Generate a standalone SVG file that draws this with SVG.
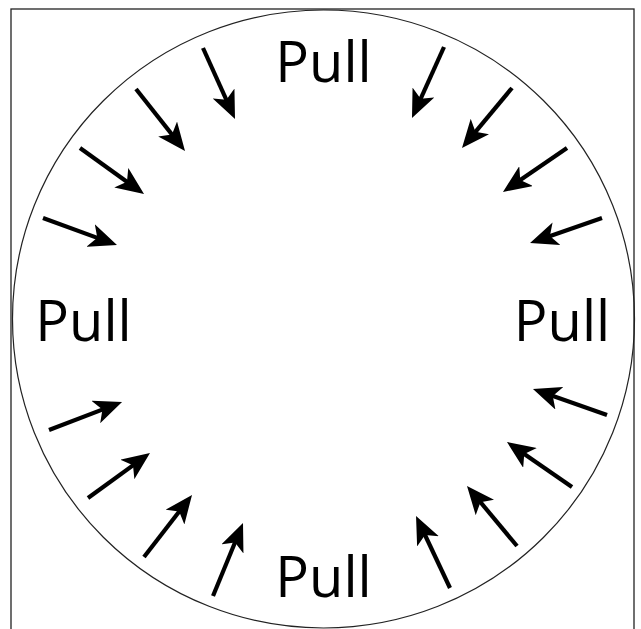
<svg xmlns="http://www.w3.org/2000/svg" width="641" height="629" viewBox="0 0 641 629">
<style>
.lbl{font-family:"Open Sans","Noto Sans",sans-serif;font-size:56px;fill:#000;text-anchor:middle}
.arr{stroke:#000;stroke-width:4.2;fill:none;marker-end:url(#ah)}
</style>
<defs>
<marker id="ah" viewBox="0 0 28 24" markerWidth="28" markerHeight="24" markerUnits="userSpaceOnUse" refX="18" refY="12" orient="auto">
<path d="M0,0 L28,12 L0,24 L7,12 Z" fill="#000"/>
</marker>
</defs>
<rect width="641" height="629" fill="#fff"/>
<rect x="11" y="9" width="623" height="640" fill="none" stroke="#222" stroke-width="1.3"/>
<ellipse id="ring" cx="323.5" cy="319" rx="311" ry="309" fill="none" stroke="#222" stroke-width="1.2"/>
<g id="label-top"><text class="lbl" x="323.5" y="82">Pull</text></g>
<g id="label-left"><text class="lbl" x="83.5" y="341">Pull</text></g>
<g id="label-right"><text class="lbl" x="562" y="341">Pull</text></g>
<g id="label-bottom"><text class="lbl" x="323.5" y="597">Pull</text></g>
<g id="connectors">
<line class="arr" x1="203" y1="48" x2="230.9" y2="109.9"/>
<line class="arr" x1="136" y1="89" x2="178.8" y2="143.1"/>
<line class="arr" x1="80" y1="148" x2="135.9" y2="188.2"/>
<line class="arr" x1="43" y1="218" x2="107.6" y2="241.6"/>
<line class="arr" x1="444" y1="47" x2="416.1" y2="108.9"/>
<line class="arr" x1="512" y1="88" x2="468.4" y2="140.3"/>
<line class="arr" x1="567" y1="148" x2="511.2" y2="186.3"/>
<line class="arr" x1="602" y1="218" x2="539.5" y2="239.7"/>
<line class="arr" x1="49" y1="430" x2="112.7" y2="405.6"/>
<line class="arr" x1="88" y1="498" x2="141.9" y2="458.9"/>
<line class="arr" x1="144" y1="557" x2="185.9" y2="502.9"/>
<line class="arr" x1="213" y1="596" x2="239.2" y2="532.3"/>
<line class="arr" x1="607" y1="415" x2="542.4" y2="392.3"/>
<line class="arr" x1="572" y1="487" x2="515.2" y2="447.7"/>
<line class="arr" x1="517" y1="546" x2="473.4" y2="493.7"/>
<line class="arr" x1="450" y1="588" x2="420.3" y2="525"/>
</g>
</svg>
